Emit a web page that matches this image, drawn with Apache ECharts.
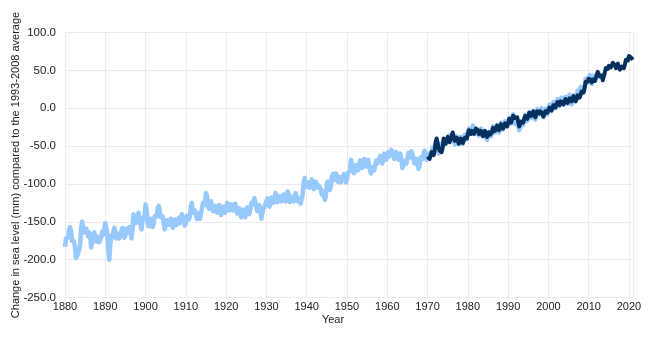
<!DOCTYPE html>
<html>
<head>
<meta charset="utf-8">
<script src="https://cdn.jsdelivr.net/npm/echarts@6/dist/echarts.min.js"></script>
<style>
  html, body { margin: 0; padding: 0; background: #fff; }
  #chart { width: 650px; height: 340px; }
</style>
</head>
<body>
<div id="chart"></div>
<script>
// Reconstructed sea level, quarterly steps starting 1880.0 (mm vs 1993-2008 average)
const reconStart = 1880;
const reconStep = 0.25;
const reconValues = [
  -183, -172, -170, -171, -161, -157, -162, -175, -177, -176, -185, -198, -200, -192, -194, -181, -158, -150, -152, -164,
  -165, -159, -163, -169, -164, -169, -184, -182, -170, -164, -168, -176, -174, -170, -177, -179, -170, -163, -167, -165,
  -152, -153, -165, -188, -200, -179, -168, -171, -164, -158, -163, -172, -170, -166, -172, -172, -162, -158, -164, -171,
  -168, -159, -160, -164, -157, -160, -172, -161, -140, -141, -152, -154, -145, -138, -140, -155, -160, -148, -146, -142,
  -127, -134, -150, -156, -152, -146, -150, -157, -153, -143, -143, -143, -132, -129, -135, -144, -143, -143, -152, -160,
  -158, -148, -148, -154, -150, -146, -152, -158, -154, -147, -150, -154, -148, -145, -152, -151, -140, -139, -148, -155,
  -152, -142, -141, -147, -143, -129, -125, -138, -140, -135, -139, -146, -142, -139, -146, -144, -132, -125, -128, -125,
  -112, -116, -130, -133, -126, -123, -129, -136, -132, -129, -135, -138, -131, -128, -134, -141, -137, -130, -132, -138,
  -133, -125, -126, -135, -134, -127, -129, -135, -130, -126, -132, -139, -135, -132, -139, -144, -138, -134, -140, -144,
  -137, -131, -135, -140, -134, -125, -125, -127, -119, -120, -130, -136, -131, -128, -135, -146, -146, -133, -130, -132,
  -123, -119, -125, -130, -124, -118, -121, -125, -119, -112, -115, -124, -122, -116, -119, -123, -117, -114, -120, -123,
  -116, -110, -113, -124, -124, -117, -120, -123, -116, -112, -117, -123, -119, -118, -126, -125, -113, -98, -92, -104,
  -105, -98, -101, -105, -99, -94, -98, -107, -106, -97, -98, -105, -102, -100, -107, -114, -110, -111, -121, -116,
  -100, -97, -103, -108, -102, -90, -87, -95, -93, -86, -89, -97, -94, -91, -98, -100, -91, -87, -92, -98,
  -93, -85, -87, -83, -68, -69, -80, -86, -82, -75, -78, -82, -76, -69, -72, -79, -76, -67, -67, -77,
  -76, -68, -70, -83, -86, -78, -80, -82, -74, -69, -73, -75, -67, -63, -68, -73, -67, -60, -63, -68,
  -62, -58, -64, -65, -55, -53, -60, -67, -64, -58, -62, -68, -63, -60, -67, -79, -80, -70, -70, -73,
  -66, -59, -62, -65, -57, -56, -65, -73, -70, -67, -73, -80, -77, -65, -63, -67, -61, -56, -60, -68,
  -66, -60, -64, -66, -58, -52, -56, -57, -48, -45, -52, -60, -57, -47, -47, -51, -44, -41, -47, -49,
  -40, -36, -42, -44, -36, -34, -42, -48, -44, -37, -40, -47, -44, -38, -42, -47, -41, -35, -38, -41,
  -33, -27, -30, -33, -26, -23, -30, -34, -27, -25, -32, -36, -30, -27, -33, -37, -30, -28, -36, -42,
  -38, -31, -34, -37, -30, -24, -28, -32, -26, -22, -28, -32, -26, -19, -22, -28, -24, -17, -20, -24,
  -18, -13, -17, -20, -12, -8, -13, -21, -18, -15, -22, -29, -26, -17, -18, -22, -15, -9, -12, -17,
  -11, -5, -8, -13, -7, -4, -11, -15, -9, -1, -2, -8, -4, 0, -6, -12, -8, -1, -4, -8,
  -1, 5, 0, -4, 2, 8, 3, 0, 6, 12, 7, 3, 9, 14, 8, 5, 11, 15, 9, 6,
  12, 18, 13, 5, 6, 17, 18, 11, 14, 23, 22, 20, 28, 29, 20, 20, 30, 39, 38, 34,
  40, 44, 37, 32, 36, 43, 40, 37, 44
];

// Tide gauge / satellite sea level, quarterly steps starting 1970.0
const gaugeStart = 1970;
const gaugeStep = 0.25;
const gaugeValues = [
  -64, -62, -67, -66, -58, -57, -62, -57, -45, -40, -42, -52, -56, -54, -58, -52, -40, -40, -47, -46,
  -38, -38, -45, -44, -36, -32, -34, -43, -45, -39, -40, -47, -47, -40, -40, -46, -45, -39, -40, -40,
  -34, -29, -31, -34, -30, -29, -34, -34, -27, -25, -29, -34, -32, -30, -34, -37, -33, -30, -33, -38,
  -36, -32, -35, -37, -32, -26, -27, -30, -26, -23, -26, -29, -25, -21, -23, -27, -25, -20, -22, -24,
  -20, -14, -14, -19, -18, -10, -8, -13, -13, -12, -18, -24, -25, -18, -18, -19, -14, -10, -12, -14,
  -11, -6, -7, -10, -7, -4, -8, -12, -10, -4, -4, -7, -4, -2, -7, -11, -10, -4, -4, -6,
  -2, 1, -1, -3, 0, 4, 3, 1, 5, 8, 6, 4, 9, 11, 8, 5, 9, 12, 10, 7,
  10, 13, 11, 9, 13, 16, 13, 9, 12, 17, 17, 14, 18, 22, 21, 21, 27, 35, 37, 35,
  39, 41, 37, 34, 38, 40, 36, 37, 44, 48, 47, 42, 44, 43, 37, 39, 47, 53, 54, 52,
  56, 58, 54, 54, 60, 61, 57, 53, 56, 59, 57, 51, 51, 55, 54, 53, 58, 64, 64, 63,
  69, 70, 67, 65, 64
];

const yearTicks = { min: 1880, max: 2021, interval: 10 };
const levelTicks = { min: -250, max: 100, interval: 50 };

function toPairs(start, step, values) {
  return values.map((v, i) => [start + i * step, v]);
}

const chart = echarts.init(document.getElementById('chart'), null, { renderer: 'canvas' });

const labelStyle = { fontFamily: 'Liberation Sans, Arial, sans-serif', fontSize: 11, color: '#222' };

chart.setOption({
  animation: false,
  backgroundColor: '#ffffff',
  grid: { left: 65, right: 17, top: 32.5, bottom: 42.5, containLabel: false, outerBoundsMode: 'none' },
  xAxis: {
    type: 'value',
    min: yearTicks.min,
    max: yearTicks.max,
    interval: yearTicks.interval,
    name: 'Year',
    nameLocation: 'middle',
    nameGap: 17,
    nameMoveOverlap: false,
    nameTextStyle: Object.assign({}, labelStyle, { padding: [0, 32, 0, 0] }),
    axisLine: { show: false },
    axisTick: { show: false },
    axisLabel: Object.assign({}, labelStyle, { margin: 4, formatter: v => String(v), showMaxLabel: false }),
    splitLine: { show: true, lineStyle: { color: '#ececec', width: 1 } }
  },
  yAxis: {
    type: 'value',
    min: levelTicks.min,
    max: levelTicks.max,
    interval: levelTicks.interval,
    name: 'Change in sea level (mm) compared to the 1993-2008 average',
    nameLocation: 'middle',
    nameGap: 44,
    nameMoveOverlap: false,
    nameTextStyle: labelStyle,
    axisLine: { show: false },
    axisTick: { show: false },
    axisLabel: Object.assign({}, labelStyle, { fontSize: 11.5, margin: 9, formatter: v => v.toFixed(1) }),
    splitLine: { show: true, lineStyle: { color: '#ececec', width: 1 } }
  },
  series: [
    {
      name: 'Reconstructed',
      type: 'line',
      data: toPairs(reconStart, reconStep, reconValues),
      showSymbol: false,
      lineStyle: { color: '#97c9fd', width: 4.5, join: 'round' },
      z: 2
    },
    {
      name: 'Measured',
      type: 'line',
      data: toPairs(gaugeStart, gaugeStep, gaugeValues),
      showSymbol: false,
      lineStyle: { color: '#06315f', width: 4, join: 'round' },
      z: 3
    }
  ]
});
</script>
</body>
</html>
